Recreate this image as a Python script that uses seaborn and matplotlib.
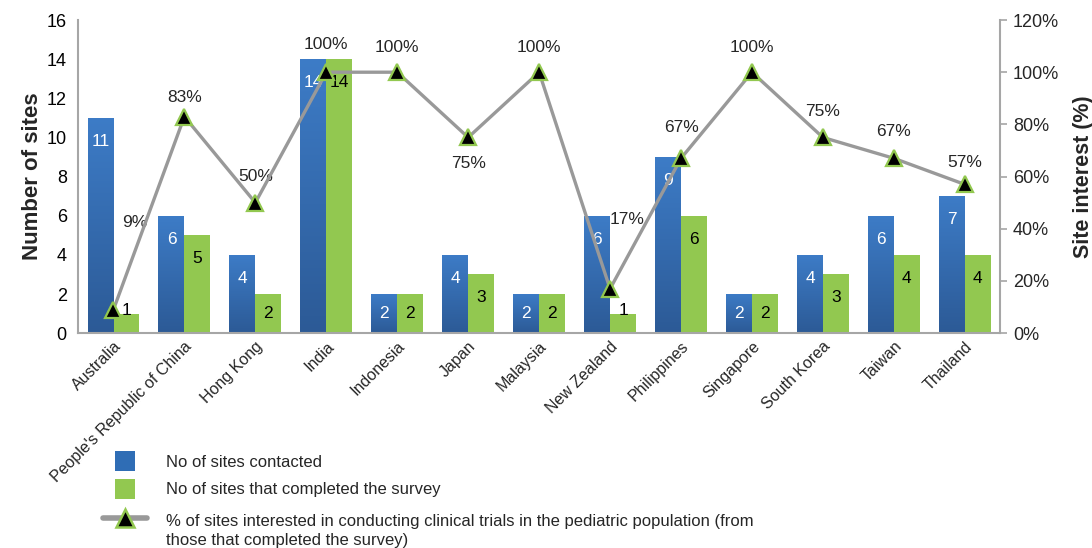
import matplotlib
matplotlib.use("Agg")
import matplotlib.pyplot as plt
from matplotlib.lines import Line2D
from matplotlib.patches import Patch, Rectangle
from matplotlib.legend_handler import HandlerBase, HandlerPatch
from matplotlib.colors import LinearSegmentedColormap
import matplotlib.ticker as mticker
import seaborn as sns
import pandas as pd
import numpy as np

# données
pays = ["Australia", "People's Republic of China", "Hong Kong", "India", "Indonesia",
        "Japan", "Malaysia", "New Zealand", "Philippines", "Singapore",
        "South Korea", "Taiwan", "Thailand"]
contactes = [11, 6, 4, 14, 2, 4, 2, 6, 9, 2, 4, 6, 7]
completes = [1, 5, 2, 14, 2, 3, 2, 1, 6, 2, 3, 4, 4]
interet_pct = [9, 83, 50, 100, 100, 75, 100, 17, 67, 100, 75, 67, 57]

SERIE_BLEUE = "No of sites contacted"
SERIE_VERTE = "No of sites that completed the survey"
SERIE_LIGNE = ("% of sites interested in conducting clinical trials in the pediatric population (from\n"
               "those that completed the survey)")

BLEU = "#2F6DB5"
BLEU_HAUT = "#3D7CC7"
BLEU_BAS = "#2C5A96"
VERT = "#92C850"
GRIS = "#999999"

# décalage des étiquettes de pourcentage (en points) : la plupart au-dessus du marqueur
decalages = [(15, 63), (0, 14), (0, 19), (0, 20), (0, 18), (0, -19), (0, 18),
             (12, 50), (0, 22), (0, 18), (0, 19), (0, 19), (0, 16)]

sns.set_theme(style="white")
plt.rcParams["font.family"] = ["Liberation Sans", "DejaVu Sans"]

df = pd.DataFrame({
    "pays": pays * 2,
    "valeur": contactes + completes,
    "serie": [SERIE_BLEUE] * len(pays) + [SERIE_VERTE] * len(pays),
})

fig = plt.figure(figsize=(10.92, 5.48), dpi=100)
ax = fig.add_axes([0.0714, 0.392, 0.8446, 0.5715])

sns.barplot(data=df, x="pays", y="valeur", hue="serie", order=pays,
            hue_order=[SERIE_BLEUE, SERIE_VERTE], palette=[BLEU, VERT],
            width=0.73, saturation=1, linewidth=0, legend=False, ax=ax)

# dégradé vertical sur les barres bleues (comme dans Excel)
degrade = LinearSegmentedColormap.from_list("bleu", [BLEU_BAS, BLEU_HAUT])
grad = np.linspace(0, 1, 256).reshape(-1, 1)
for rect in ax.containers[0]:
    x0, h, w = rect.get_x(), rect.get_height(), rect.get_width()
    im = ax.imshow(grad, extent=[x0, x0 + w, 0, h], origin="lower", cmap=degrade,
                   aspect="auto", zorder=rect.get_zorder(), interpolation="bilinear")
    im.set_clip_path(rect)
# imshow touche aux limites, on les remet
ax.set_ylim(0, 16)
ax.set_xlim(-0.5, len(pays) - 0.5)
ax.set_aspect("auto")

# étiquettes dans les barres : blanc pour les bleues, noir pour les vertes
for cont, coul in zip(ax.containers, ["white", "black"]):
    for rect in cont:
        v = rect.get_height()
        xc = rect.get_x() + rect.get_width() / 2
        y = max(v - 1.2, v / 2) if v >= 2 else v + 0.15
        ax.text(xc, y, f"{v:.0f}", ha="center", va="center", color=coul, fontsize=12.5, zorder=6)

ax.set_yticks(range(0, 17, 2))
ax.set_xlabel("")
ax.set_ylabel("Number of sites", fontsize=16, fontweight="bold", labelpad=3)
ax.tick_params(axis="y", labelsize=13, length=0, pad=8, colors="black")
ax.tick_params(axis="x", labelsize=11.5, length=0, pad=4)
ax.set_xticks(range(len(pays)))
ax.set_xticklabels(pays, rotation=45, ha="right", rotation_mode="anchor")
for cote in ["top", "right"]:
    ax.spines[cote].set_visible(False)
for cote in ["left", "bottom"]:
    ax.spines[cote].set_color("#A6A6A6")
    ax.spines[cote].set_linewidth(1.5)

# axe secondaire : pourcentage d'intérêt
ax2 = ax.twinx()
ax2.plot(np.arange(len(pays)), interet_pct, color=GRIS, lw=2.4, marker="^",
         markersize=11, markerfacecolor="black", markeredgecolor=VERT, markeredgewidth=1.6,
         zorder=5)
for i, p in enumerate(interet_pct):
    ax2.annotate(f"{p}%", (i, p), xytext=decalages[i], textcoords="offset points",
                 ha="center", va="center", fontsize=12.5)
ax2.set_ylim(0, 120)
ax2.yaxis.set_major_locator(mticker.MultipleLocator(20))
ax2.yaxis.set_major_formatter(mticker.FuncFormatter(lambda v, _: f"{v:.0f}%"))
ax2.set_ylabel("Site interest (%)", fontsize=15.5, fontweight="bold", labelpad=10)
ax2.tick_params(axis="y", labelsize=13, length=5, width=1.2, color="#A6A6A6", pad=4)
for cote in ["top", "left", "bottom"]:
    ax2.spines[cote].set_visible(False)
ax2.spines["right"].set_color("#A6A6A6")
ax2.spines["right"].set_linewidth(1.5)
ax2.grid(False)


# carré centré dans la case de légende, plus petit que la ligne
def carre(legend, orig_handle, xdescent, ydescent, width, height, fontsize):
    c = height * 1.1
    return Rectangle((width / 2 - c / 2 - xdescent, height / 2 - c / 2 - ydescent), c, c)


# la ligne de légende est alignée sur la première ligne du texte (pas au milieu)
class HandlerLigneHaut(HandlerBase):
    def create_artists(self, legend, orig_handle, xdescent, ydescent, width, height, fontsize, trans):
        y = (height - ydescent) / 2 + 0.7 * fontsize
        ligne = Line2D([-xdescent, width - xdescent], [y, y], color=GRIS, lw=4, transform=trans)
        marq = Line2D([width / 2 - xdescent], [y], marker="^", markersize=13, linestyle="none",
                      markerfacecolor="black", markeredgecolor=VERT, markeredgewidth=1.8,
                      transform=trans)
        return [ligne, marq]


# deux légendes : les barres, puis la ligne un peu plus bas (texte sur deux lignes)
opts = dict(loc="upper left", frameon=False, fontsize=12, handlelength=2.6, handleheight=1.3,
            handletextpad=1.15, labelspacing=0.55, borderpad=0)
fig.legend([Patch(facecolor=BLEU, edgecolor="none"), Patch(facecolor=VERT, edgecolor="none")],
           [SERIE_BLEUE, SERIE_VERTE], bbox_to_anchor=(0.087, 0.19),
           handler_map={Patch: HandlerPatch(patch_func=carre)}, **opts)
leg2 = fig.legend([Line2D([0], [0], color=GRIS)], [SERIE_LIGNE], bbox_to_anchor=(0.087, 0.078),
                  handler_map={Line2D: HandlerLigneHaut()}, **opts)
leg2.get_texts()[0].set_linespacing(1.35)

fig.savefig("out.png", dpi=100)
